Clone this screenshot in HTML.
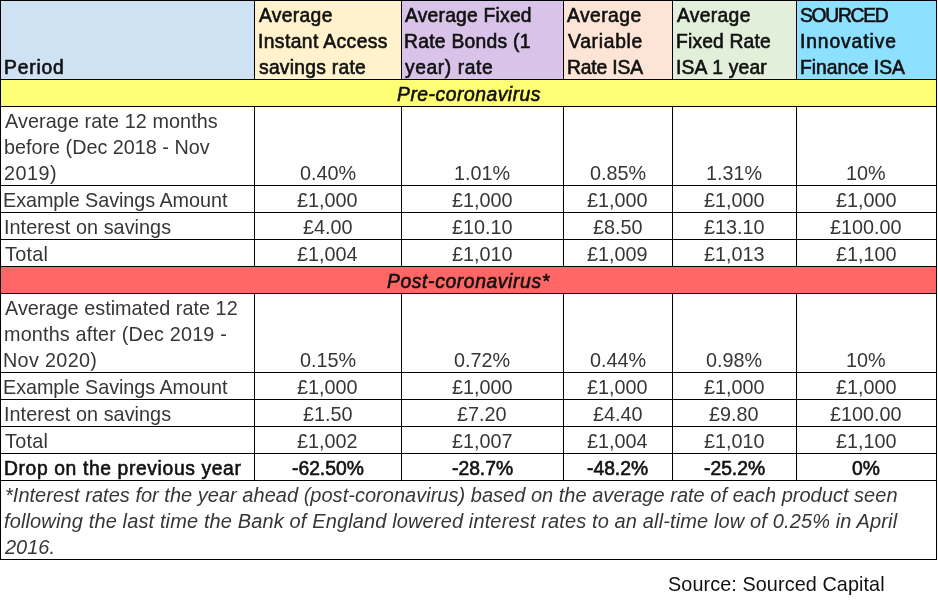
<!DOCTYPE html><html><head><meta charset="utf-8"><style>
html,body{margin:0;padding:0;background:#fff;}
#p{position:relative;width:938px;height:605px;overflow:hidden;background:#fff;font-family:"Liberation Sans",sans-serif;color:#2a2a2a;}
.bg,.h,.v,.t{position:absolute;}
.h{height:1px;background:#000;}
.v{width:1px;background:#000;}
.t{white-space:nowrap;line-height:26px;will-change:transform;}
.r{font-size:19.8px;}
.b{font-size:19.3px;-webkit-text-stroke:0.6px currentColor;}
.i{font-size:20px;font-style:italic;}
.bi{font-size:19.3px;font-style:italic;-webkit-text-stroke:0.6px currentColor;}
</style></head><body><div id="p">
<div class="bg" style="left:0px;top:0;width:254px;height:79px;background:#CFE2F3"></div>
<div class="bg" style="left:254px;top:0;width:147px;height:79px;background:#FFF2CC"></div>
<div class="bg" style="left:401px;top:0;width:162px;height:79px;background:#D9C3E9"></div>
<div class="bg" style="left:563px;top:0;width:109px;height:79px;background:#FCE4D6"></div>
<div class="bg" style="left:672px;top:0;width:124px;height:79px;background:#E2EFDA"></div>
<div class="bg" style="left:796px;top:0;width:140px;height:79px;background:#8EE0FF"></div>
<div class="bg" style="left:0;top:79px;width:937px;height:27px;background:#FFFF75"></div>
<div class="bg" style="left:0;top:266px;width:937px;height:27px;background:#FF6666"></div>
<div class="h" style="left:0;top:0px;width:937px"></div>
<div class="h" style="left:0;top:79px;width:937px"></div>
<div class="h" style="left:0;top:106px;width:937px"></div>
<div class="h" style="left:0;top:185px;width:937px"></div>
<div class="h" style="left:0;top:212px;width:937px"></div>
<div class="h" style="left:0;top:239px;width:937px"></div>
<div class="h" style="left:0;top:266px;width:937px"></div>
<div class="h" style="left:0;top:293px;width:937px"></div>
<div class="h" style="left:0;top:372px;width:937px"></div>
<div class="h" style="left:0;top:399px;width:937px"></div>
<div class="h" style="left:0;top:426px;width:937px"></div>
<div class="h" style="left:0;top:453px;width:937px"></div>
<div class="h" style="left:0;top:480px;width:937px"></div>
<div class="h" style="left:0;top:559px;width:937px"></div>
<div class="v" style="left:0px;top:0;height:560px"></div>
<div class="v" style="left:254px;top:0px;height:80px"></div>
<div class="v" style="left:254px;top:106px;height:161px"></div>
<div class="v" style="left:254px;top:293px;height:188px"></div>
<div class="v" style="left:401px;top:0px;height:80px"></div>
<div class="v" style="left:401px;top:106px;height:161px"></div>
<div class="v" style="left:401px;top:293px;height:188px"></div>
<div class="v" style="left:563px;top:0px;height:80px"></div>
<div class="v" style="left:563px;top:106px;height:161px"></div>
<div class="v" style="left:563px;top:293px;height:188px"></div>
<div class="v" style="left:672px;top:0px;height:80px"></div>
<div class="v" style="left:672px;top:106px;height:161px"></div>
<div class="v" style="left:672px;top:293px;height:188px"></div>
<div class="v" style="left:796px;top:0px;height:80px"></div>
<div class="v" style="left:796px;top:106px;height:161px"></div>
<div class="v" style="left:796px;top:293px;height:188px"></div>
<div class="v" style="left:936px;top:0;height:560px"></div>
<div class="t b" style="left:4.00px;top:55px;letter-spacing:0.800px;color:#111;">Period</div>
<div class="t b" style="left:258.50px;top:3px;letter-spacing:0.317px;color:#111;">Average</div>
<div class="t b" style="left:257.80px;top:29px;letter-spacing:0.392px;color:#111;">Instant Access</div>
<div class="t b" style="left:258.50px;top:55px;letter-spacing:0.255px;color:#111;">savings rate</div>
<div class="t b" style="left:405.40px;top:3px;letter-spacing:0.217px;color:#111;">Average Fixed</div>
<div class="t b" style="left:404.40px;top:29px;letter-spacing:0.267px;color:#111;">Rate Bonds (1</div>
<div class="t b" style="left:405.40px;top:55px;letter-spacing:0.567px;color:#111;">year) rate</div>
<div class="t b" style="left:567.30px;top:3px;letter-spacing:0.450px;color:#111;">Average</div>
<div class="t b" style="left:567.90px;top:29px;letter-spacing:0.714px;color:#111;">Variable</div>
<div class="t b" style="left:566.90px;top:55px;letter-spacing:-0.143px;color:#111;">Rate ISA</div>
<div class="t b" style="left:676.70px;top:3px;letter-spacing:0.317px;color:#111;">Average</div>
<div class="t b" style="left:676.00px;top:29px;letter-spacing:0.167px;color:#111;">Fixed Rate</div>
<div class="t b" style="left:676.00px;top:55px;letter-spacing:0.200px;color:#111;">ISA 1 year</div>
<div class="t b" style="left:799.60px;top:3px;letter-spacing:-1.283px;color:#111;">SOURCED</div>
<div class="t b" style="left:800.00px;top:29px;letter-spacing:0.889px;color:#111;">Innovative</div>
<div class="t b" style="left:800.00px;top:55px;letter-spacing:-0.020px;color:#111;">Finance ISA</div>
<div class="t bi" style="left:397.30px;top:82px;letter-spacing:0.529px;color:#111;">Pre-coronavirus</div>
<div class="t bi" style="left:387.00px;top:269px;letter-spacing:0.625px;color:#111;">Post-coronavirus*</div>
<div class="t r" style="left:5.00px;top:108px;letter-spacing:0.095px;color:#363636;">Average rate 12 months</div>
<div class="t r" style="left:4.00px;top:134px;color:#363636;">before (Dec 2018 - Nov</div>
<div class="t r" style="left:4.00px;top:160px;letter-spacing:0.500px;color:#363636;">2019)</div>
<div class="t r" style="left:3.00px;top:187px;letter-spacing:-0.048px;color:#363636;">Example Savings Amount</div>
<div class="t r" style="left:3.50px;top:214px;letter-spacing:0.056px;color:#363636;">Interest on savings</div>
<div class="t r" style="left:5.00px;top:241px;letter-spacing:0.250px;color:#363636;">Total</div>
<div class="t r" style="left:5.00px;top:295px;letter-spacing:0.042px;color:#363636;">Average estimated rate 12</div>
<div class="t r" style="left:4.00px;top:321px;letter-spacing:0.174px;color:#363636;">months after (Dec 2019 -</div>
<div class="t r" style="left:3.40px;top:347px;letter-spacing:0.325px;color:#363636;">Nov 2020)</div>
<div class="t r" style="left:3.00px;top:374px;letter-spacing:-0.048px;color:#363636;">Example Savings Amount</div>
<div class="t r" style="left:3.50px;top:401px;letter-spacing:0.056px;color:#363636;">Interest on savings</div>
<div class="t r" style="left:5.00px;top:428px;letter-spacing:0.250px;color:#363636;">Total</div>
<div class="t b" style="left:4.00px;top:456px;letter-spacing:0.625px;color:#111;">Drop on the previous year</div>
<div class="t r" style="left:299.50px;top:160px;color:#363636;">0.40%</div>
<div class="t r" style="left:454.00px;top:160px;color:#363636;">1.01%</div>
<div class="t r" style="left:589.50px;top:160px;color:#363636;">0.85%</div>
<div class="t r" style="left:706.00px;top:160px;color:#363636;">1.31%</div>
<div class="t r" style="left:846.00px;top:160px;color:#363636;">10%</div>
<div class="t r" style="left:297.00px;top:187px;color:#363636;">£1,000</div>
<div class="t r" style="left:451.50px;top:187px;color:#363636;">£1,000</div>
<div class="t r" style="left:587.00px;top:187px;color:#363636;">£1,000</div>
<div class="t r" style="left:703.50px;top:187px;color:#363636;">£1,000</div>
<div class="t r" style="left:835.50px;top:187px;color:#363636;">£1,000</div>
<div class="t r" style="left:302.50px;top:214px;color:#363636;">£4.00</div>
<div class="t r" style="left:451.50px;top:214px;color:#363636;">£10.10</div>
<div class="t r" style="left:592.50px;top:214px;color:#363636;">£8.50</div>
<div class="t r" style="left:703.50px;top:214px;color:#363636;">£13.10</div>
<div class="t r" style="left:830.00px;top:214px;color:#363636;">£100.00</div>
<div class="t r" style="left:297.00px;top:241px;color:#363636;">£1,004</div>
<div class="t r" style="left:451.50px;top:241px;color:#363636;">£1,010</div>
<div class="t r" style="left:587.00px;top:241px;color:#363636;">£1,009</div>
<div class="t r" style="left:703.50px;top:241px;color:#363636;">£1,013</div>
<div class="t r" style="left:835.50px;top:241px;color:#363636;">£1,100</div>
<div class="t r" style="left:299.50px;top:347px;color:#363636;">0.15%</div>
<div class="t r" style="left:454.00px;top:347px;color:#363636;">0.72%</div>
<div class="t r" style="left:589.50px;top:347px;color:#363636;">0.44%</div>
<div class="t r" style="left:706.00px;top:347px;color:#363636;">0.98%</div>
<div class="t r" style="left:846.00px;top:347px;color:#363636;">10%</div>
<div class="t r" style="left:297.00px;top:374px;color:#363636;">£1,000</div>
<div class="t r" style="left:451.50px;top:374px;color:#363636;">£1,000</div>
<div class="t r" style="left:587.00px;top:374px;color:#363636;">£1,000</div>
<div class="t r" style="left:703.50px;top:374px;color:#363636;">£1,000</div>
<div class="t r" style="left:835.50px;top:374px;color:#363636;">£1,000</div>
<div class="t r" style="left:302.50px;top:401px;color:#363636;">£1.50</div>
<div class="t r" style="left:457.00px;top:401px;color:#363636;">£7.20</div>
<div class="t r" style="left:592.50px;top:401px;color:#363636;">£4.40</div>
<div class="t r" style="left:709.00px;top:401px;color:#363636;">£9.80</div>
<div class="t r" style="left:830.00px;top:401px;color:#363636;">£100.00</div>
<div class="t r" style="left:297.00px;top:428px;color:#363636;">£1,002</div>
<div class="t r" style="left:451.50px;top:428px;color:#363636;">£1,007</div>
<div class="t r" style="left:587.00px;top:428px;color:#363636;">£1,004</div>
<div class="t r" style="left:703.50px;top:428px;color:#363636;">£1,010</div>
<div class="t r" style="left:835.50px;top:428px;color:#363636;">£1,100</div>
<div class="t b" style="left:291.50px;top:456px;color:#111;">-62.50%</div>
<div class="t b" style="left:451.50px;top:456px;color:#111;">-28.7%</div>
<div class="t b" style="left:587.00px;top:456px;color:#111;">-48.2%</div>
<div class="t b" style="left:703.50px;top:456px;color:#111;">-25.2%</div>
<div class="t b" style="left:852.00px;top:456px;color:#111;">0%</div>
<div class="t i" style="left:5.00px;top:482px;letter-spacing:0.020px;color:#363636;">*Interest rates for the year ahead (post-coronavirus) based on the average rate of each product seen</div>
<div class="t i" style="left:3.60px;top:508px;letter-spacing:0.131px;color:#363636;">following the last time the Bank of England lowered interest rates to an all-time low of 0.25% in April</div>
<div class="t i" style="left:4.60px;top:534px;letter-spacing:-0.025px;color:#363636;">2016.</div>
<div class="t r" style="left:667.70px;top:571px;letter-spacing:0.100px;color:#111;">Source: Sourced Capital</div>
</div></body></html>
